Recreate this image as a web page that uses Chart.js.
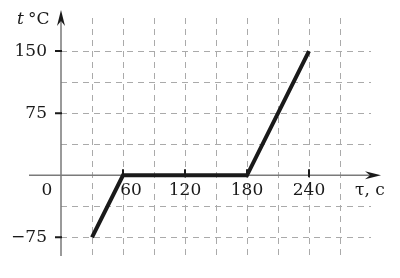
<!DOCTYPE html>
<html>
<head>
<meta charset="utf-8">
<script src="https://cdn.jsdelivr.net/npm/chart.js@4"></script>
<style>
  html, body { margin: 0; padding: 0; background: #fff; }
  #wrap { width: 400px; height: 278px; }
</style>
</head>
<body>
<div id="wrap"><canvas id="myChart"></canvas></div>
<script>
// data
const timeValues = [30, 60, 180, 240];        // τ, c
const tempValues = [-75, 0, 0, 150];          // t °C

// grid and labelled ticks
const xGrid = [30, 60, 90, 120, 150, 180, 210, 240, 270];
const yGrid = [-75, -37.5, 37.5, 75, 112.5, 150];
const xLabels = [60, 120, 180, 240];
const yLabels = [150, 75, -75];

const font = '17px "DejaVu Serif", serif';

// Function to draw an arrowhead pointing in direction (dx, dy)
function arrowHead(ctx, x, y, dx, dy) {
    const len = 16, half = 4, notch = 5;
    const px = -dy, py = dx;
    ctx.beginPath();
    ctx.moveTo(x, y);
    ctx.lineTo(x - dx * len + px * half, y - dy * len + py * half);
    ctx.lineTo(x - dx * (len - notch), y - dy * (len - notch));
    ctx.lineTo(x - dx * len - px * half, y - dy * len - py * half);
    ctx.closePath();
    ctx.fill();
}

// axes, arrows, ticks and labels drawn from the chart scales
const axesPlugin = {
    id: 'axes',
    beforeDatasetsDraw(chart) {
        const { ctx, scales: { x, y } } = chart;
        const x0 = x.getPixelForValue(0);
        const y0 = y.getPixelForValue(0);
        ctx.save();

        // axis lines
        ctx.strokeStyle = '#7a7a7a';
        ctx.lineWidth = 1.5;
        ctx.beginPath();
        ctx.moveTo(x0 - 32, y0);
        ctx.lineTo(x.right + 4, y0);
        ctx.moveTo(x0, y.bottom);
        ctx.lineTo(x0, y.top - 4);
        ctx.stroke();

        ctx.fillStyle = '#1a1a1a';
        arrowHead(ctx, x.right + 10, y0, 1, 0);
        arrowHead(ctx, x0, y.top - 8, 0, -1);

        // tick marks
        ctx.strokeStyle = '#1a1a1a';
        ctx.lineWidth = 2;
        ctx.beginPath();
        yLabels.forEach(v => {
            const py = y.getPixelForValue(v);
            ctx.moveTo(x0 - 6, py);
            ctx.lineTo(x0 + 1, py);
        });
        xLabels.forEach(v => {
            const px = x.getPixelForValue(v);
            ctx.moveTo(px, y0 - 6);
            ctx.lineTo(px, y0 + 2);
        });
        ctx.stroke();

        // tick labels
        ctx.fillStyle = '#1a1a1a';
        ctx.font = font;
        ctx.textBaseline = 'middle';
        ctx.textAlign = 'right';
        yLabels.forEach(v => {
            const txt = v < 0 ? '\u2212' + Math.abs(v) : String(v);
            ctx.fillText(txt, x0 - 14, y.getPixelForValue(v));
        });
        ctx.textAlign = 'center';
        ctx.fillText('0', x0 - 14, y0 + 15);
        xLabels.forEach(v => {
            const shift = v === 60 ? 8 : 0; // keep 60 clear of the line
            ctx.fillText(String(v), x.getPixelForValue(v) + shift, y0 + 15);
        });

        // axis titles
        ctx.textAlign = 'left';
        ctx.font = 'italic ' + font;
        ctx.fillText('t', 17, y.top + 2);
        ctx.font = font;
        ctx.fillText('\u00b0C', 28, y.top + 2);
        ctx.fillText('\u03c4, c', x.right - 16, y0 + 15);

        ctx.restore();
    }
};

const ctx = document.getElementById('myChart').getContext('2d');
const myChart = new Chart(ctx, {
    type: 'line',
    data: {
        datasets: [{
            data: timeValues.map((t, i) => ({ x: t, y: tempValues[i] })),
            borderColor: '#1a1a1a',
            borderWidth: 4,
            pointRadius: 0,
            tension: 0,
            borderJoinStyle: 'miter',
            clip: false
        }]
    },
    options: {
        responsive: true,
        maintainAspectRatio: false,
        animation: false,
        events: [],
        layout: { padding: { left: 61, right: 29, top: 18, bottom: 22 } },
        plugins: { legend: { display: false }, tooltip: { enabled: false } },
        scales: {
            x: {
                type: 'linear',
                min: 0,
                max: 300,
                afterBuildTicks: s => { s.ticks = xGrid.map(v => ({ value: v })); },
                ticks: { display: false },
                grid: { color: '#aaaaaa', lineWidth: 1, drawTicks: false },
                border: { display: false, dash: [6, 5] }
            },
            y: {
                type: 'linear',
                min: -97.5,
                max: 190,
                afterBuildTicks: s => { s.ticks = yGrid.map(v => ({ value: v })); },
                ticks: { display: false },
                grid: { color: '#aaaaaa', lineWidth: 1, drawTicks: false },
                border: { display: false, dash: [6, 5] }
            }
        }
    },
    plugins: [axesPlugin]
});
</script>
</body>
</html>
